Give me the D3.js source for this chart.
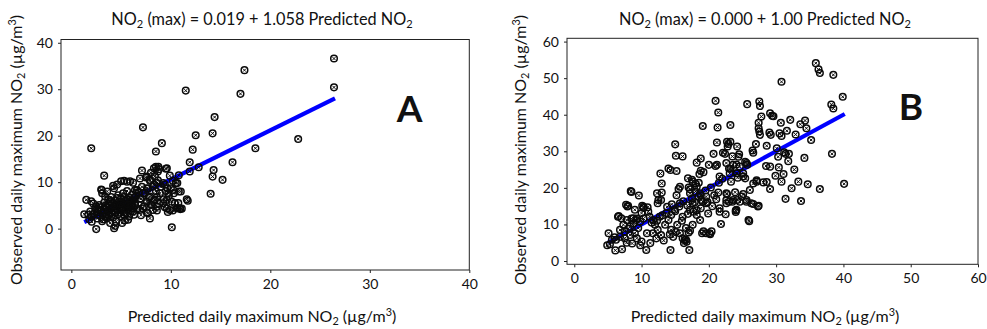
<!DOCTYPE html>
<html>
<head>
<meta charset="utf-8">
<script src="https://cdn.jsdelivr.net/npm/d3@7"></script>
<style>
  body { margin: 0; background: #fff; }
  svg text { font-family: Lato, "Open Sans", sans-serif; fill: #111; }
</style>
</head>
<body>
<div id="chart"></div>
<script>
// ---- data ----
const xTicksA = [0, 10, 20, 30, 40];
const yTicksA = [0, 10, 20, 30, 40];
const xTicksB = [0, 10, 20, 30, 40, 50, 60];
const yTicksB = [0, 10, 20, 30, 40, 50, 60];

// regression: [intercept, slope], fitted x-range
const coefA = [0.019, 1.058];
const fitRangeA = [1.3, 26.5];
const coefB = [0.0, 1.0];
const fitRangeB = [5.0, 40.2];

// [predicted, observed]
const pointsA = [
  [26.4,36.6],[26.4,30.4],[17.4,34.1],[17.0,29.0],[11.5,29.7],[14.4,24.0],[14.2,20.5],[12.5,20.1],
  [7.2,21.8],[22.8,19.3],[18.5,17.3],[2.0,17.3],[9.1,18.4],[8.5,16.6],[12.2,17.0],[11.9,14.3],
  [16.2,14.3],[12.8,13.2],[11.9,12.3],[14.3,12.6],[14.2,11.2],[15.2,10.5],[14.0,7.5],[10.1,0.3],
  [9.5,12.9],[10.8,11.5],[9.9,11.4],[11.7,6.0],[10.95,4.2],[3.3,11.4],[1.5,6.2],[1.3,3.1],
  [2.5,-0.1],[4.3,0.1],[4.4,0.6],[7.9,2.2],[7.1,12.5],[8.5,13.3],[8.3,13.0],[8.7,12.3],
  [4.6,9.5],[5.0,10.2],[5.3,10.3],[5.6,10.1],[5.9,10.2],[6.2,9.9],[4.2,9.2],
  [10.65,9.8],[11.0,8.0],[11.6,6.3],[10.75,5.5],[10.9,4.4],[10.4,5.5],[10.1,5.8],[9.6,6.2],
  [9.25,5.5],[9.6,4.4],[9.9,4.0],[10.6,4.4],[9.6,13.0],[8.75,13.3],[7.6,11.2],[7.9,10.5],
  [8.6,9.8],[9.25,9.8],[9.65,8.7],[10.25,8.3],[9.75,7.6],
  [6.6,8.3],[6.9,6.5],[7.2,7.6],[7.6,5.8],[7.9,6.9],[8.1,5.1],[8.4,6.2],[8.2,4.0],[7.7,3.3],
  [7.2,4.4],[8.6,4.7],[7.1,9.0],[7.6,8.7],[8.2,9.0],[6.9,4.0],[6.2,3.7],[6.4,5.1],
  [6.8,7.9],[7.0,6.4],[7.3,4.8],[7.4,7.7],[7.5,11.0],[7.6,3.5],[7.7,8.6],[7.8,6.7],[7.9,10.3],
  [8.0,5.2],[8.0,12.0],[8.3,9.5],[8.3,6.0],[8.4,11.3],[8.5,8.1],[8.6,3.9],[8.6,6.8],[8.7,10.4],
  [8.8,5.4],[8.9,7.6],[9.0,9.0],[6.9,10.8],[8.8,12.8],[7.0,2.9],
  [9.3,6.3],[9.4,4.6],[9.5,8.1],[9.7,3.6],[9.8,7.0],[10.0,8.7],[10.2,3.9],[10.3,7.6],[10.5,9.8],
  [10.7,4.4],[10.8,8.0],[11.1,4.3],[9.4,9.5],[10.2,10.3],
  [1.8,2.0],[2.0,2.6],[2.05,1.5],[2.3,3.2],[2.4,4.4],[2.6,2.2],[2.7,3.6],[2.8,5.1],[2.9,2.8],
  [3.0,4.0],[3.0,8.4],[3.1,7.6],[3.1,1.6],[3.2,3.3],[3.3,5.6],[3.4,6.9],[3.4,2.5],[3.5,4.6],
  [3.6,3.8],[3.7,6.2],[3.8,2.9],[3.8,5.0],[3.9,4.2],[4.0,3.4],[4.0,6.8],[4.1,5.5],[4.2,2.4],
  [4.2,4.7],[4.3,3.9],[4.4,6.1],[4.5,5.2],[4.5,1.5],[4.6,4.3],[4.7,7.2],[4.7,3.1],[4.8,5.8],
  [4.9,4.8],[5.0,2.7],[5.0,6.5],[5.1,3.9],[5.2,5.3],[5.2,7.6],[5.3,4.5],[5.4,1.8],[5.4,6.0],
  [5.5,3.4],[5.6,5.0],[5.6,8.1],[5.7,4.2],[5.8,6.7],[5.8,2.6],[5.9,5.6],[6.0,3.8],[6.1,7.3],
  [6.1,4.9],[6.2,6.1],[6.3,3.0],[6.4,8.3],[6.4,5.4],[6.5,7.0],[2.0,5.9],[1.9,3.7],[2.5,4.8],
  [2.2,5.4],[1.7,3.0],[3.6,8.0],[4.3,8.7],[6.6,4.4],[5.1,1.2],[3.9,1.2],[5.7,1.9],[3.05,8.3],
  [2.6,3.0],[3.3,4.1],[3.7,5.3],[4.1,4.4],[4.4,3.6],[4.8,4.1],[5.1,4.6],[5.5,4.4],[5.9,4.7],
  [3.5,3.0],[2.9,4.6],[4.6,6.6],[5.3,6.8],[6.0,5.9],
  [3.2,2.0],[3.6,2.2],[4.0,2.7],[4.9,3.4],[5.3,3.0],[4.5,4.9],[4.9,5.4],[5.6,6.3],[6.3,6.6],
  [3.9,5.9],[3.4,4.9],[2.7,4.1],[4.3,5.0],[5.7,5.2],[6.2,4.5]
];

const pointsB = [
  [35.9,54.1],[36.3,52.4],[36.5,51.4],[38.5,50.9],[30.8,49.0],[39.9,44.9],[38.2,42.8],[38.5,41.7],
  [21.0,43.8],[25.7,42.9],[27.5,43.6],[27.6,42.4],[21.4,40.6],[27.8,39.5],[29.1,40.4],[29.4,39.7],
  [29.6,39.6],[19.1,36.9],[21.3,36.5],[23.2,37.2],[32.1,38.6],[30.7,37.8],[33.6,37.4],[34.3,38.4],
  [34.5,36.3],[31.6,35.6],[32.9,34.6],[30.5,34.9],[30.8,34.2],[29.0,35.1],[29.2,34.5],[27.4,37.8],
  [27.4,36.3],[27.5,35.4],[27.6,34.5],[35.2,33.1],[15.0,31.9],[21.2,32.4],[22.7,32.6],[22.9,32.0],
  [23.2,32.6],[22.8,31.3],[24.2,31.3],[27.0,32.0],[28.6,31.5],[30.1,30.8],[26.5,30.2],[26.6,29.6],
  [31.2,29.7],[31.4,29.3],[31.9,29.3],[38.3,29.3],[15.1,28.8],[16.1,28.6],[20.7,29.3],[22.1,29.6],
  [22.4,29.3],[23.5,28.6],[24.5,29.2],[24.4,28.5],[30.3,28.5],[31.8,27.3],[34.2,28.2],[18.2,26.9],
  [18.8,28.0],[20.0,26.3],[21.0,26.0],[23.0,25.3],[23.2,25.2],[24.1,26.4],[25.4,27.1],[25.7,26.3],
  [28.5,26.0],[29.1,25.8],[30.4,25.6],[32.7,25.0],[14.0,25.3],[14.3,24.9],[15.2,24.6],[18.8,24.7],
  [19.2,24.3],[18.6,23.8],[12.8,23.9],[23.1,24.0],[24.2,24.0],[25.1,24.0],[31.1,23.8],[29.9,23.3],
  [25.4,22.6],[27.1,21.7],[28.1,21.5],[28.6,21.6],[30.8,21.7],[33.3,21.7],[34.7,21.0],[40.1,21.1],
  [13.0,21.2],[17.5,22.2],[18.0,21.2],[18.5,21.4],[17.0,20.1],[17.2,19.6],[15.5,19.7],[21.4,18.7],
  [22.7,18.3],[29.1,19.7],[32.3,19.9],[36.5,19.7],[23.9,18.8],[25.1,18.3],[24.9,17.6],[22.6,16.7],
  [23.0,16.2],[23.5,16.2],[24.2,16.7],[25.6,16.2],[26.3,15.8],[26.6,15.6],[27.4,15.1],[27.3,14.9],
  [31.4,17.0],[33.7,16.4],[12.3,18.5],[13.0,18.7],[12.5,16.7],[12.4,15.8],[18.5,17.6],[18.8,18.0],
  [19.1,16.2],[19.8,16.1],[21.6,14.4],[22.5,12.8],[24.0,13.8],[24.0,13.4],[26.0,10.9],[21.8,10.1],
  [18.8,14.4],[18.2,13.9],[17.7,13.5],[19.0,7.6],[20.2,7.3],[20.1,7.6],[8.4,19.1],[9.6,17.9],
  [7.7,15.4],[7.9,14.9],[10.1,15.1],[10.3,14.8],[10.9,14.7],[17.0,7.8],[17.2,8.3],[14.3,3.0],
  [17.1,3.0],[10.7,3.0],[6.1,2.9],[7.1,3.2],[5.1,7.6],[4.9,4.3],[5.3,4.6],[6.6,12.3],
  [7.0,11.7],[8.8,11.7],[9.2,11.2],[16.4,5.7],[16.7,5.3],
  [6.2,5.8],[6.8,8.5],[7.5,8.1],[7.3,9.9],[6.5,12.1],[8.0,15.1],[8.5,18.9],[9.0,14.0],
  [10.3,14.5],[10.0,13.1],[11.0,13.5],[11.2,12.1],[10.3,11.6],[9.3,11.6],[8.5,11.6],[7.8,11.2],
  [8.3,9.4],[8.8,10.3],[9.8,10.8],[6.8,6.6],[7.5,6.2],[8.3,7.1],[9.0,7.6],[9.3,6.2],[10.0,5.3],
  [10.8,7.6],[11.7,11.2],[12.0,9.9],[12.4,8.5],[12.9,7.1],[11.7,7.6],[12.2,6.2],[12.7,12.1],
  [13.7,13.1],[14.4,12.6],[14.9,14.0],[14.0,11.2],[13.5,9.9],[14.4,8.5],[15.3,9.9],[15.7,7.6],
  [14.7,6.6],[16.1,6.2],[16.6,5.8],[16.3,4.9],[12.9,16.7],[15.7,20.3],[16.9,22.6],[17.6,21.7],
  [17.2,18.5],[18.2,20.3],[18.7,18.5],[18.9,16.7],[17.6,15.8],[19.6,15.8],[19.6,17.6],[17.2,14.0],
  [18.2,12.6],[18.7,11.2],[17.6,9.9],[16.6,9.0],[16.1,12.1],[15.7,15.8],[15.2,18.0],[19.2,8.1],
  [19.6,7.6],[20.4,8.1],[21.6,23.1],[21.2,26.3],[22.6,26.8],[23.6,26.3],[24.1,24.0],[24.6,25.8],
  [25.6,26.8],[25.1,23.1],[26.6,21.2],[27.1,22.1],[26.1,19.4],[25.6,16.7],[24.6,16.2],[23.6,16.7],
  [22.6,18.5],[22.6,15.8],[21.6,13.5],[24.1,14.0],[25.9,11.2],
  [11.5,10.5],[12.3,11.0],[13.1,12.5],[13.8,14.8],[14.5,15.5],[15.0,13.6],[15.6,14.9],[16.2,16.3],
  [16.8,15.2],[17.5,17.1],[18.0,19.0],[19.5,19.3],[20.3,20.1],[20.8,18.0],[21.5,21.4],[22.0,22.5],
  [23.3,21.7],[24.3,22.8],[9.5,9.0],[8.0,8.8],[6.0,6.5],[5.6,5.8],[7.8,5.0],[8.6,4.8],[9.8,4.3],
  [11.3,4.9],[13.3,5.6],[14.2,7.3],[15.1,7.9],[16.0,11.0],[16.9,12.9],[17.9,16.1],[20.5,15.0],
  [19.9,13.0],[21.1,16.9]
];

// ---- layout ----
const width = 987, height = 329;

const panels = [
  { points: pointsA, xTicks: xTicksA, yTicks: yTicksA, coef: coefA, fit: fitRangeA,
    xDomain: [-1.04, 40], yDomain: [-8.9, 40.7],
    left: 61, right: 469.3, top: 39.5, bottom: 270,
    title: ['0.019', '1.058'], letter: 'A', letterX: 409.5, letterY: 122,
    titleX: 262, yLabelX: 22 },
  { points: pointsB, xTicks: xTicksB, yTicks: yTicksB, coef: coefB, fit: fitRangeB,
    xDomain: [-1.08, 60], yDomain: [-0.9, 60.9],
    left: 567, right: 978, top: 38.3, bottom: 264.3,
    title: ['0.000', '1.00'], letter: 'B', letterX: 911, letterY: 120,
    titleX: 765, yLabelX: 526 }
];

const svg = d3.select('#chart').append('svg')
  .attr('width', width)
  .attr('height', height)
  .style('display', 'block');

svg.append('rect').attr('width', width).attr('height', height).attr('fill', '#fff');

// text with NO2 subscript / m3 superscript pieces: [text, 'sub'|'sup'|'']
function richText(sel, parts, size) {
  parts.forEach(([t, kind], i) => {
    const prev = i > 0 ? parts[i - 1][1] : '';
    let dy = 0;
    if (prev === 'sub') dy -= 0.2;
    if (prev === 'sup') dy += 0.38;
    if (kind === 'sub') dy += 0.2;
    if (kind === 'sup') dy -= 0.38;
    sel.append('tspan')
      .attr('dy', dy ? dy * size : null)
      .attr('font-size', kind ? size * 0.68 : size)
      .text(t);
  });
}

function drawPanel(p) {
  const x = d3.scaleLinear().domain(p.xDomain).range([p.left, p.right]);
  const y = d3.scaleLinear().domain(p.yDomain).range([p.bottom, p.top]);
  const g = svg.append('g');

  // axes
  const xAxis = g.append('g')
    .attr('transform', `translate(0, ${p.bottom})`)
    .call(d3.axisBottom(x).tickValues(p.xTicks).tickSize(3).tickPadding(6).tickSizeOuter(0));
  const yAxis = g.append('g')
    .attr('transform', `translate(${p.left}, 0)`)
    .call(d3.axisLeft(y).tickValues(p.yTicks).tickSize(3).tickPadding(5).tickSizeOuter(0));
  [xAxis, yAxis].forEach(a => {
    a.attr('font-family', null).attr('font-size', 14);
    a.select('.domain').remove();
    a.selectAll('line').attr('stroke', '#222');
  });

  // frame
  g.append('rect')
    .attr('x', p.left).attr('y', p.top)
    .attr('width', p.right - p.left).attr('height', p.bottom - p.top)
    .attr('fill', 'none').attr('stroke', '#222').attr('stroke-width', 1);

  // regression line
  g.append('line')
    .attr('x1', x(p.fit[0])).attr('y1', y(p.coef[0] + p.coef[1] * p.fit[0]))
    .attr('x2', x(p.fit[1])).attr('y2', y(p.coef[0] + p.coef[1] * p.fit[1]))
    .attr('stroke', '#0000ff').attr('stroke-width', 4.2);

  // markers
  const m = g.selectAll('.pt').data(p.points).join('g')
    .attr('class', 'pt')
    .attr('transform', d => `translate(${x(d[0])}, ${y(d[1])})`);
  m.append('circle').attr('r', 3.3)
    .attr('fill', 'none').attr('stroke', '#0a0a0a').attr('stroke-width', 1.5);
  m.append('path').attr('d', 'M-1.5,-1.5L1.5,1.5M-1.5,1.5L1.5,-1.5')
    .attr('stroke', '#0a0a0a').attr('stroke-width', 1);

  // title
  const title = g.append('text').attr('x', p.titleX).attr('y', 25).attr('text-anchor', 'middle');
  richText(title, [['NO', ''], ['2', 'sub'], [` (max) = ${p.title[0]} + ${p.title[1]} Predicted NO`, ''], ['2', 'sub']], 16.3);

  // panel letter
  g.append('text').attr('x', p.letterX).attr('y', p.letterY)
    .attr('text-anchor', 'middle').attr('font-weight', 'bold').attr('font-size', 37)
    .text(p.letter);

  // axis labels
  const xl = g.append('text').attr('x', p.titleX).attr('y', 322).attr('text-anchor', 'middle');
  richText(xl, [['Predicted daily maximum NO', ''], ['2', 'sub'], [' (µg/m', ''], ['3', 'sup'], [')', '']], 16);

  const yl = g.append('text')
    .attr('transform', `translate(${p.yLabelX}, 150) rotate(-90)`)
    .attr('text-anchor', 'middle');
  richText(yl, [['Observed daily maximum NO', ''], ['2', 'sub'], [' (µg/m', ''], ['3', 'sup'], [')', '']], 16);
}

panels.forEach(drawPanel);
</script>
</body>
</html>
